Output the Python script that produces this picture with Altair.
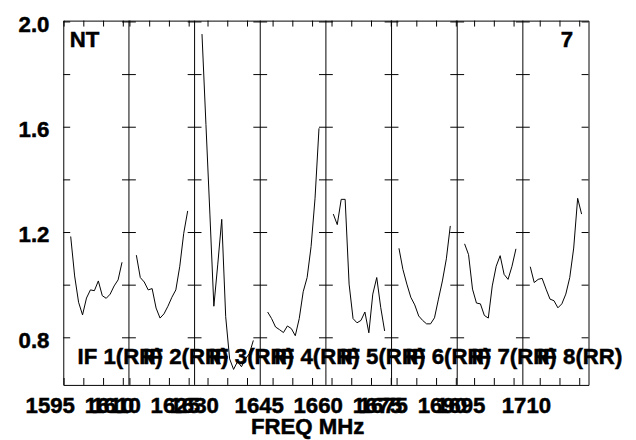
import altair as alt
import pandas as pd

# ---------------- data ----------------
PANELS = [1, 2, 3, 4, 5, 6, 7, 8]
IF_LABELS = ["IF 1(RR)", "IF 2(RR)", "IF 3(RR)", "IF 4(RR)",
             "IF 5(RR)", "IF 6(RR)", "IF 7(RR)", "IF 8(RR)"]
# lower frequency edge of each IF panel (MHz)
PANEL_START = [1594.8, 1609.75, 1626.6, 1641.75, 1658.45, 1673.6, 1690.6, 1705.6]
PANEL_SPAN = 16.625          # MHz shown per panel
CHAN_OFFSET = [1.875 + i for i in range(14)]   # channel offsets from panel edge (MHz)

IF1 = [1.185, 1.035, 0.935, 0.887, 0.951, 0.982, 0.979, 1.016, 0.960, 0.950, 0.966, 0.997, 1.020, 1.087]
IF2 = [1.114, 1.029, 1.012, 0.982, 0.987, 0.913, 0.875, 0.891, 0.920, 0.954, 0.982, 1.072, 1.197, 1.282]
IF3 = [1.954, 1.610, 1.270, 0.920, 1.080, 1.250, 0.880, 0.720, 0.680, 0.710, 0.690, 0.720, 0.740, 0.790]
IF4 = [0.898, 0.873, 0.841, 0.831, 0.820, 0.845, 0.835, 0.808, 0.873, 0.975, 1.029, 1.147, 1.330, 1.596]
IF5 = [1.270, 1.230, 1.326, 1.326, 1.004, 0.873, 0.857, 0.866, 0.898, 0.819, 0.966, 1.029, 0.916, 0.826]
IF6 = [1.140, 1.060, 1.004, 0.954, 0.925, 0.883, 0.866, 0.853, 0.853, 0.876, 0.947, 1.016, 1.100, 1.225]
IF7 = [1.157, 1.116, 0.985, 0.932, 0.929, 0.885, 0.875, 0.997, 1.072, 1.112, 1.041, 1.022, 1.072, 1.138]
IF8 = [1.070, 1.010, 1.022, 1.026, 0.985, 0.947, 0.941, 0.914, 0.929, 0.966, 1.029, 1.141, 1.330, 1.270]
SERIES = [IF1, IF2, IF3, IF4, IF5, IF6, IF7, IF8]

# frequency tick marks (MHz) and labelled ticks, per panel
TICKS = [[1595, 1600, 1605, 1610], [1610, 1615, 1620, 1625], [1630, 1635, 1640],
         [1645, 1650, 1655], [1660, 1665, 1670, 1675], [1675, 1680, 1685, 1690],
         [1695, 1700, 1705], [1710, 1715, 1720]]
TICK_LABELS = [[1595, 1610], [1610, 1625], [1630], [1645], [1660, 1675],
               [1675, 1690], [1695], [1710]]

Y_TICKS = [0.8, 1.0, 1.2, 1.4, 1.6, 1.8, 2.0]
Y_LABELS = [0.8, 1.2, 1.6, 2.0]
Y_DOMAIN = [0.621, 2.005]

CORNER_LEFT = "NT"
CORNER_RIGHT = "7"
X_TITLE = "FREQ MHz"

# ---------------- build tables ----------------
def plot_x(k, freq):
    return k * PANEL_SPAN + (freq - PANEL_START[k])

rows = []
for k, vals in enumerate(SERIES):
    for off, v in zip(CHAN_OFFSET, vals):
        rows.append({"panel": PANELS[k], "x": k * PANEL_SPAN + off, "v": v})
lines_df = pd.DataFrame(rows)

bounds_df = pd.DataFrame({"x": [k * PANEL_SPAN for k in range(len(PANELS) + 1)],
                          "k": list(range(len(PANELS) + 1))})
ytick_df = pd.DataFrame([{"x": k * PANEL_SPAN, "k": k, "v": y}
                         for k in range(len(PANELS) + 1) for y in Y_TICKS])
xtick_df = pd.DataFrame([{"x": plot_x(k, f)} for k in range(len(PANELS)) for f in TICKS[k]])
xlab_df = pd.DataFrame([{"x": plot_x(k, f), "t": str(f)}
                        for k in range(len(PANELS)) for f in TICK_LABELS[k]])
ylab_df = pd.DataFrame({"v": Y_LABELS, "t": [f"{y:.1f}" for y in Y_LABELS]})
iflab_df = pd.DataFrame({"x": [k * PANEL_SPAN for k in range(len(PANELS))], "t": IF_LABELS})

W, H = 532, 369
NP = len(PANELS)
XS = alt.Scale(domain=[0, NP * PANEL_SPAN], nice=False, zero=False)
YS = alt.Scale(domain=Y_DOMAIN, nice=False, zero=False)
FONT = "Liberation Sans"
FS = 22.5
TXT = dict(font=FONT, fontSize=FS, fontWeight="bold", color="black",
           stroke="black", strokeWidth=0.5)

def X(f="x"):
    return alt.X(f"{f}:Q", scale=XS, axis=None)

def Y(f="v"):
    return alt.Y(f"{f}:Q", scale=YS, axis=None)

lines = alt.Chart(lines_df).mark_line(color="black", strokeWidth=1, clip=True).encode(
    x=X(), y=Y(), detail="panel:N")

dividers = alt.Chart(bounds_df).transform_filter(
    (alt.datum.k > 0) & (alt.datum.k < NP)).mark_rule(color="black", strokeWidth=1).encode(
    x=X(), y=alt.value(0), y2=alt.value(H))

yt_inner = alt.Chart(ytick_df).transform_filter(
    (alt.datum.k > 0) & (alt.datum.k < NP)).mark_rule(
    color="black", strokeWidth=1, xOffset=-7, x2Offset=7).encode(
    x=X(), x2="x:Q", y=Y())
yt_left = alt.Chart(ytick_df).transform_filter(alt.datum.k == 0).mark_rule(
    color="black", strokeWidth=1, xOffset=0, x2Offset=7).encode(
    x=X(), x2="x:Q", y=Y())
yt_right = alt.Chart(ytick_df).transform_filter(alt.datum.k == NP).mark_rule(
    color="black", strokeWidth=1, xOffset=-7, x2Offset=0).encode(
    x=X(), x2="x:Q", y=Y())

xt_bottom = alt.Chart(xtick_df).mark_rule(color="black", strokeWidth=1).encode(
    x=X(), y=alt.value(H - 7), y2=alt.value(H))
xt_top = alt.Chart(xtick_df).mark_rule(color="black", strokeWidth=1).encode(
    x=X(), y=alt.value(0), y2=alt.value(6))

xlabels = alt.Chart(xlab_df).mark_text(
    align="right", baseline="alphabetic", dx=11, **TXT).encode(
    x=X(), y=alt.value(397), text="t:N")

ylabels = alt.Chart(ylab_df).mark_text(
    align="right", baseline="middle", dy=3, **TXT).encode(
    x=alt.value(-14), y=Y(), text="t:N")

iflabels = alt.Chart(iflab_df).mark_text(
    align="left", baseline="alphabetic", dx=14.5, **TXT).encode(
    x=X(), y=alt.value(348), text="t:N")

corner_l = alt.Chart(pd.DataFrame({"t": [CORNER_LEFT]})).mark_text(
    align="left", baseline="alphabetic", **TXT).encode(
    x=alt.value(6.5), y=alt.value(27), text="t:N")
corner_r = alt.Chart(pd.DataFrame({"t": [CORNER_RIGHT]})).mark_text(
    align="right", baseline="alphabetic", **TXT).encode(
    x=alt.value(W - 15.5), y=alt.value(27), text="t:N")
xtitle = alt.Chart(pd.DataFrame({"t": [X_TITLE]})).mark_text(
    align="center", baseline="alphabetic", **TXT).encode(
    x=alt.value(247.5), y=alt.value(419), text="t:N")

chart = alt.layer(
    lines, dividers, yt_inner, yt_left, yt_right, xt_bottom, xt_top,
    xlabels, ylabels, iflabels, corner_l, corner_r, xtitle
).properties(
    width=W, height=H,
    autosize=alt.AutoSizeParams(type="none"),
    padding={"left": 56, "top": 10, "right": 40, "bottom": 53},
    background="white",
).configure_view(stroke="black", strokeWidth=1)

chart.save("out.html", embed_options={"renderer": "svg", "actions": False})
